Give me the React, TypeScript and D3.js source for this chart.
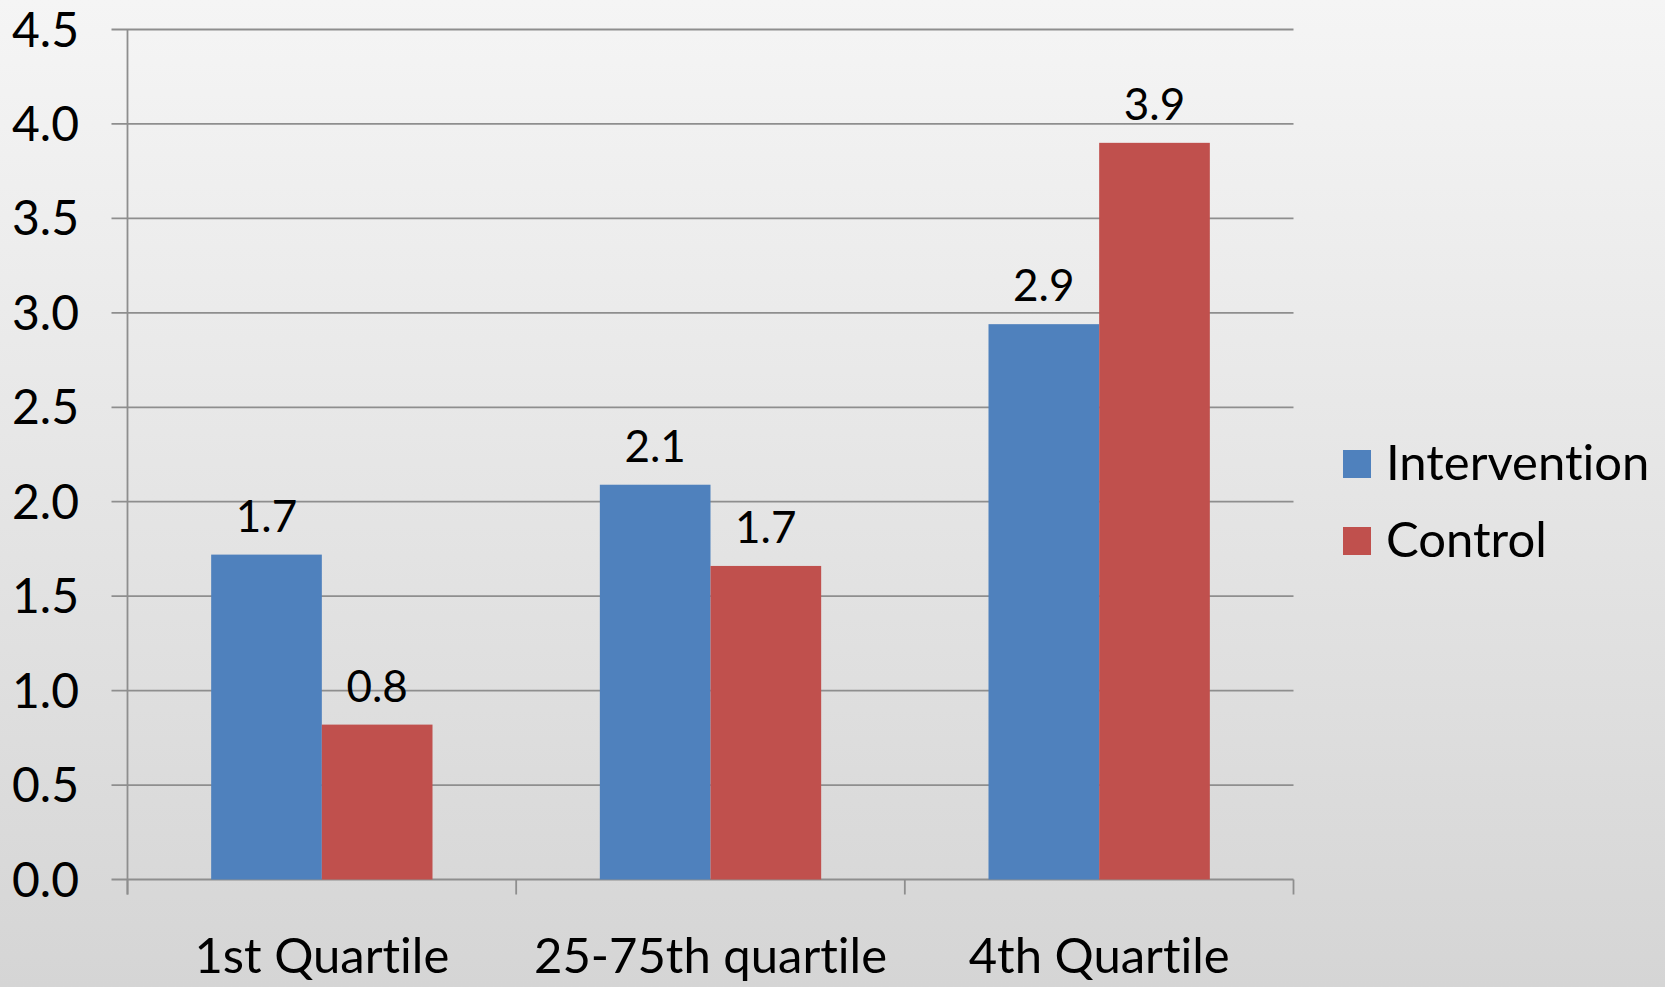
import React from "react";
import * as d3 from "d3";

const categories = ["1st Quartile", "25-75th quartile", "4th Quartile"];
const seriesNames = ["Intervention", "Control"];
const interventionValues = [1.72, 2.09, 2.94];
const controlValues = [0.82, 1.66, 3.9];
const valueLabels = [["1.7", "2.1", "2.9"], ["0.8", "1.7", "3.9"]];
const yTicks = [0, 0.5, 1, 1.5, 2, 2.5, 3, 3.5, 4, 4.5];
const colors = ["#4F81BD", "#C0504D"];

const W = 1665;
const H = 987;
const FONT = "Lato, 'Open Sans', sans-serif";
const noLig: React.CSSProperties = {
  fontVariantLigatures: "none",
  fontFeatureSettings: "'liga' 0, 'clig' 0",
};

export default function App() {
  const left = 127.5;
  const right = 1293.5;
  const top = 29.5;
  const bottom = 879.5;

  const x0 = d3.scaleBand<string>().domain(categories).range([left, right]).padding(0);
  const x1 = d3
    .scaleBand<string>()
    .domain(seriesNames)
    .range([0, x0.bandwidth()])
    .paddingInner(0)
    .paddingOuter(0.756);
  const y = d3.scaleLinear().domain([0, 4.5]).range([bottom, top]);

  const series = [interventionValues, controlValues];
  const gridColor = "#8e8e8e";

  const catTicks = [...categories.map((c) => x0(c) as number), right];

  return (
    <svg
      width={W}
      height={H}
      style={{ position: "absolute", left: 0, top: 0, display: "block" }}
    >
      <defs>
        <linearGradient id="bg" x1="0" y1="0" x2="0" y2="1">
          <stop offset="0%" stopColor="#f5f5f5" />
          <stop offset="100%" stopColor="#d5d5d5" />
        </linearGradient>
      </defs>
      <rect x={0} y={0} width={W} height={H} fill="url(#bg)" />

      {yTicks.map((t) => (
        <g key={t}>
          <line
            x1={left - 16}
            x2={right}
            y1={y(t)}
            y2={y(t)}
            stroke={gridColor}
            strokeWidth={1.8}
          />
          <text
            x={79}
            y={y(t) + 17}
            textAnchor="end"
            fontFamily={FONT}
            fontSize={48}
            fill="#000"
          >
            {t.toFixed(1)}
          </text>
        </g>
      ))}

      <line x1={left} x2={left} y1={top} y2={bottom + 15} stroke={gridColor} strokeWidth={1.8} />

      {catTicks.map((cx, i) => (
        <line
          key={i}
          x1={cx}
          x2={cx}
          y1={bottom}
          y2={bottom + 15}
          stroke={gridColor}
          strokeWidth={1.8}
        />
      ))}

      {categories.map((c, ci) => (
        <g key={c} transform={`translate(${x0(c)},0)`}>
          {seriesNames.map((s, si) => {
            const v = series[si][ci];
            const bx = x1(s) as number;
            return (
              <g key={s}>
                <rect
                  x={bx}
                  y={y(v)}
                  width={x1.bandwidth()}
                  height={bottom - y(v)}
                  fill={colors[si]}
                />
                <text
                  x={bx + x1.bandwidth() / 2}
                  y={y(v) - 23}
                  textAnchor="middle"
                  fontFamily={FONT}
                  fontSize={44}
                  fill="#000"
                >
                  {valueLabels[si][ci]}
                </text>
              </g>
            );
          })}
        </g>
      ))}

      {categories.map((c) => (
        <text
          key={c}
          x={(x0(c) as number) + x0.bandwidth() / 2}
          y={973}
          textAnchor="middle"
          fontFamily={FONT}
          fontSize={49}
          fill="#000"
          style={noLig}
        >
          {c}
        </text>
      ))}

      {seriesNames.map((s, si) => (
        <g key={s}>
          <rect x={1343} y={450 + si * 77} width={28} height={28} fill={colors[si]} />
          <text
            x={1386}
            y={480 + si * 77}
            fontFamily={FONT}
            fontSize={49}
            fill="#000"
            style={noLig}
          >
            {s}
          </text>
        </g>
      ))}
    </svg>
  );
}
